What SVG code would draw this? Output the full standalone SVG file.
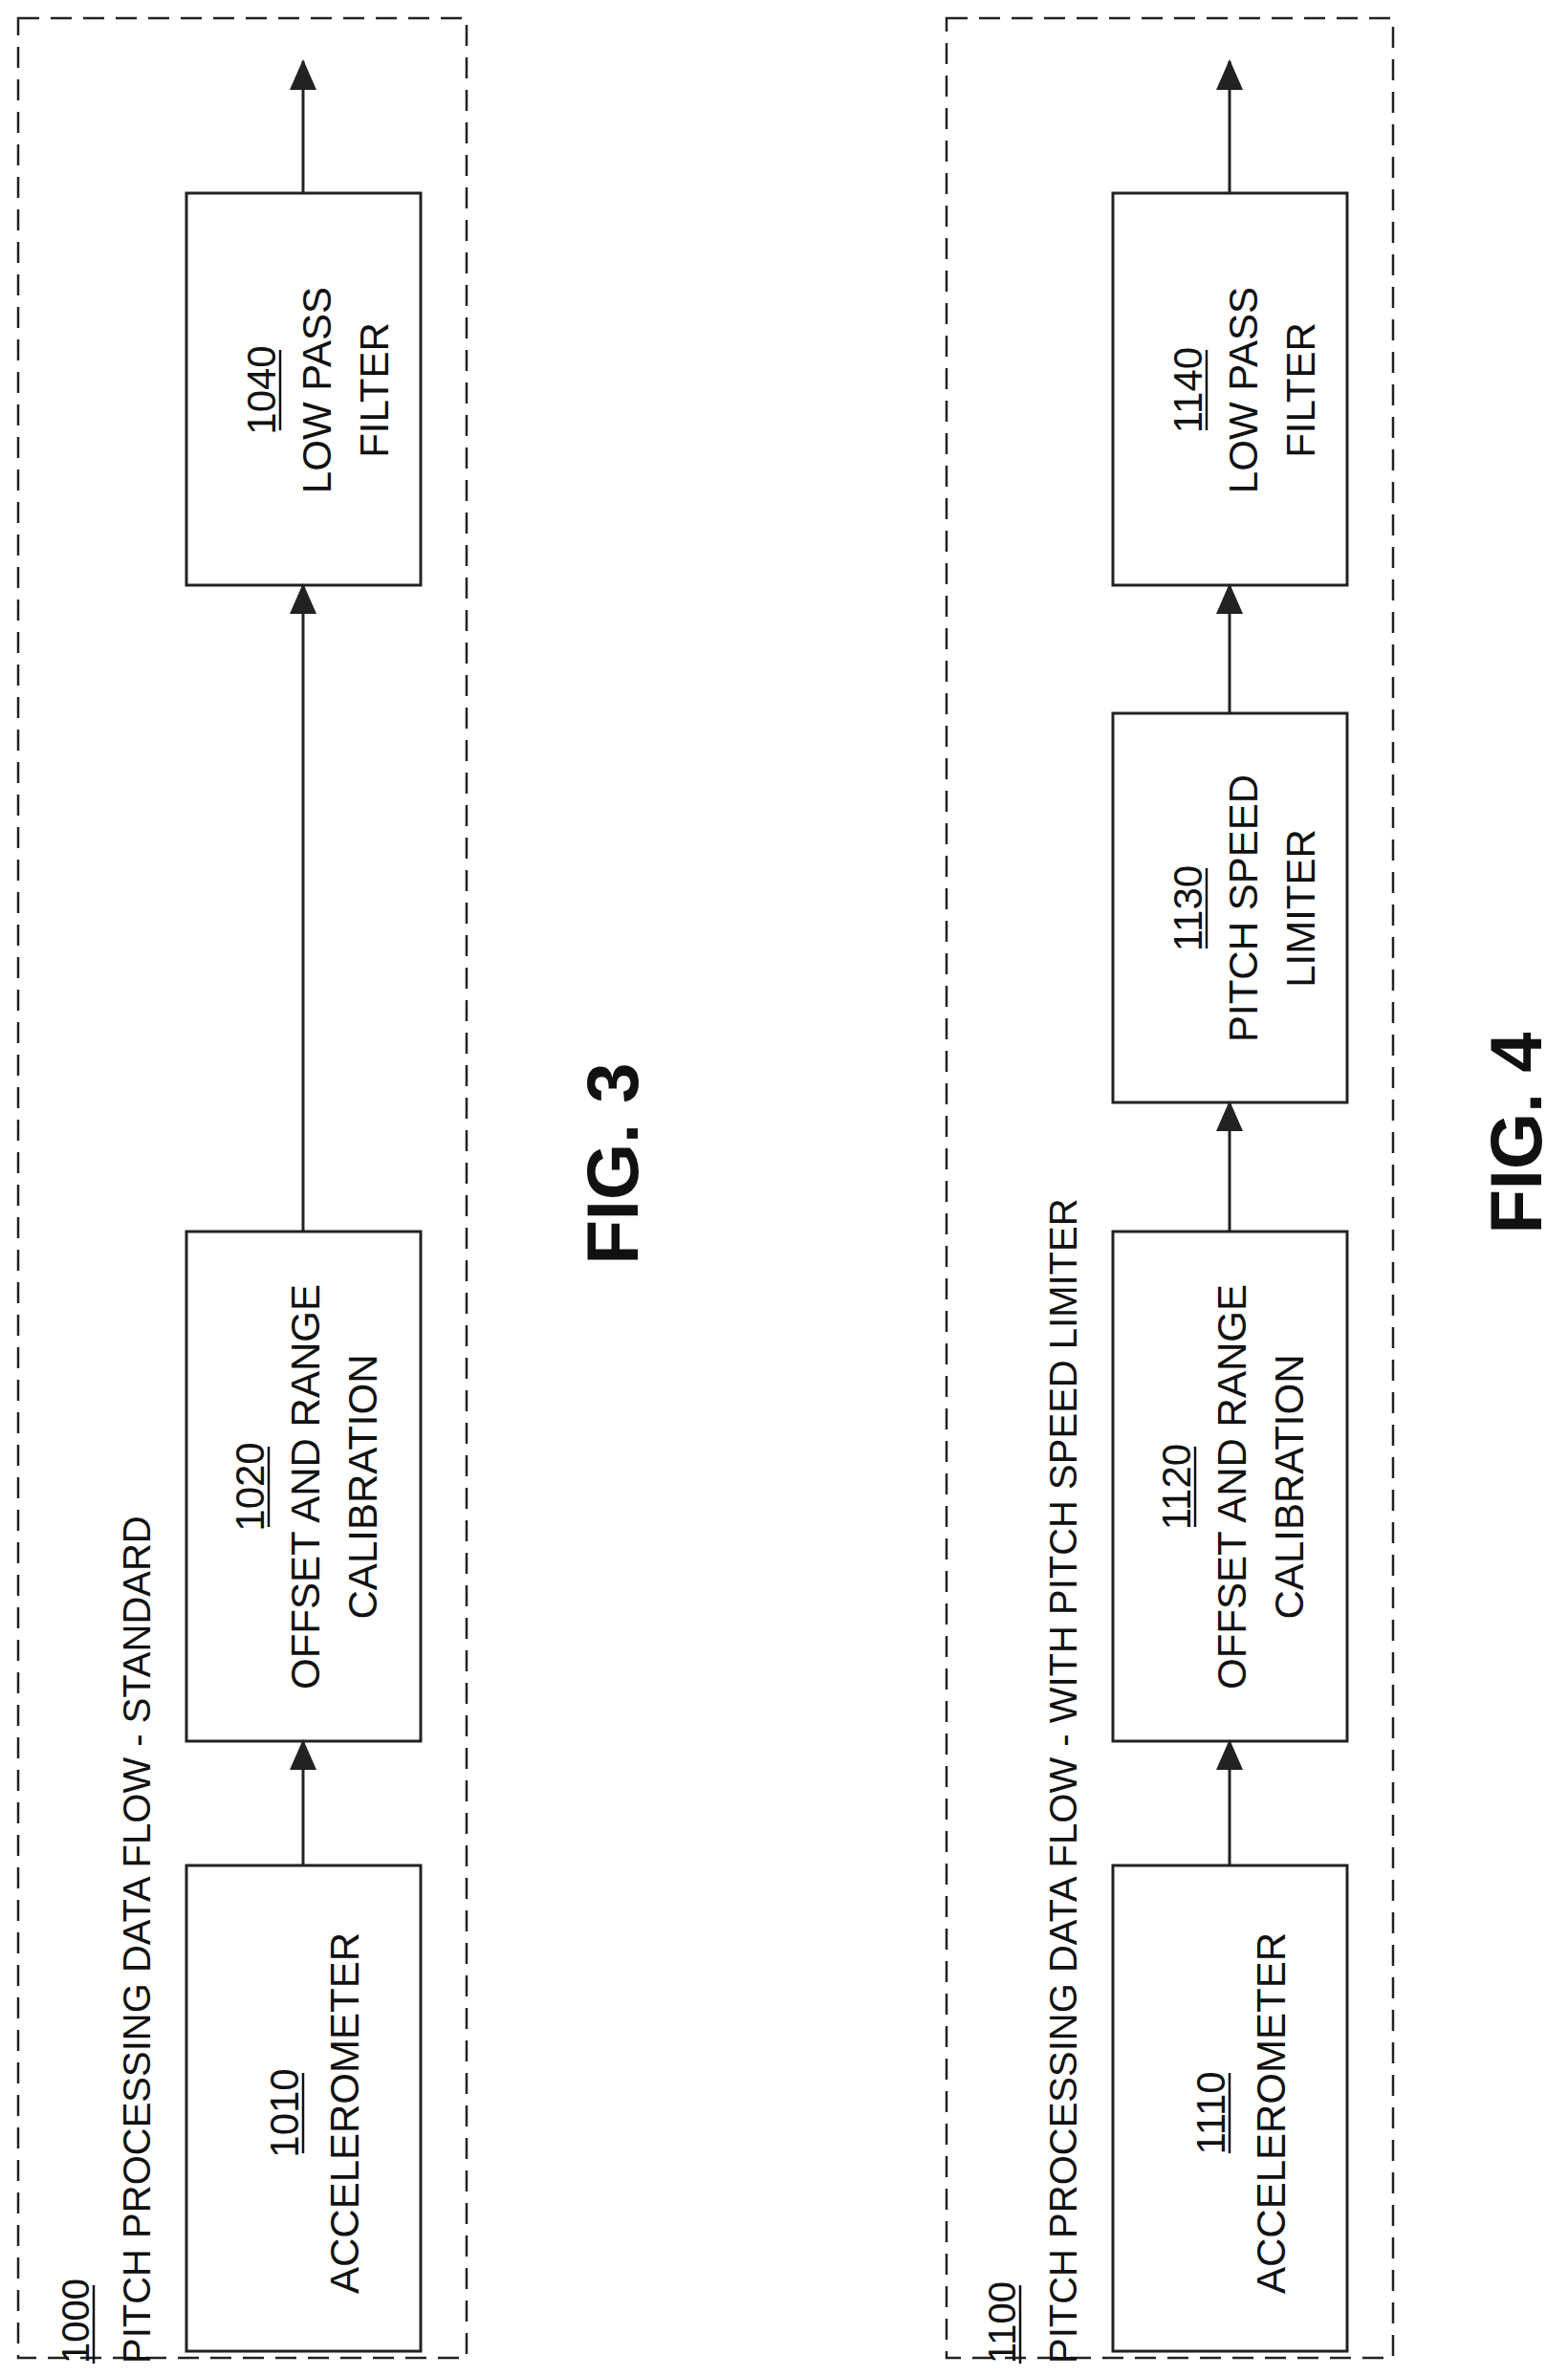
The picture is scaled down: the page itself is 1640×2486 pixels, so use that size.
<svg xmlns="http://www.w3.org/2000/svg" width="1640" height="2486" viewBox="0 0 1640 2486">
<style>
.frame{fill:none;stroke:#222;stroke-width:2.5;stroke-dasharray:22 12}
.box{fill:#fff;stroke:#222;stroke-width:3}
.t{font-family:"Liberation Sans",Arial,sans-serif;font-size:42px;fill:#111;text-anchor:middle}
.ts{font-family:"Liberation Sans",Arial,sans-serif;font-size:40px;fill:#111;text-anchor:start}
.fig{font-family:"Liberation Sans",Arial,sans-serif;font-size:76px;font-weight:bold;fill:#111;text-anchor:middle}
.u{stroke:#111;stroke-width:2.5}
</style>
<defs><marker id="b" markerWidth="32" markerHeight="28" refX="30" refY="14" orient="auto" markerUnits="userSpaceOnUse"><path d="M0,0 L32,14 L0,28 z" fill="#222"/></marker></defs>
<g id="fig3">
<rect class="frame" x="19" y="19" width="469" height="2447"/>
<text class="ts" transform="translate(93,2472) rotate(-90)">1000</text>
<line class="u" x1="98" y1="2472" x2="98" y2="2390"/>
<text class="ts" transform="translate(157,2472) rotate(-90)">PITCH PROCESSING DATA FLOW - STANDARD</text>
<text class="fig" transform="translate(667,1217) rotate(-90)">FIG. 3</text>
</g>
<g id="n1010"><rect class="box" x="195" y="1951" width="245" height="508"/>
<text class="t" transform="translate(312,2210) rotate(-90)">1010</text><line class="u" x1="317" y1="2252" x2="317" y2="2168"/>
<text class="t" transform="translate(375,2210) rotate(-90)">ACCELEROMETER</text></g>
<g id="n1020"><rect class="box" x="195" y="1288" width="245" height="533"/>
<text class="t" transform="translate(276,1555) rotate(-90)">1020</text><line class="u" x1="281" y1="1597" x2="281" y2="1513"/>
<text class="t" transform="translate(334,1555) rotate(-90)">OFFSET AND RANGE</text>
<text class="t" transform="translate(394,1555) rotate(-90)">CALIBRATION</text></g>
<g id="n1040"><rect class="box" x="195" y="202" width="245" height="410"/>
<text class="t" transform="translate(288,408) rotate(-90)">1040</text><line class="u" x1="293" y1="450" x2="293" y2="366"/>
<text class="t" transform="translate(346,408) rotate(-90)">LOW PASS</text>
<text class="t" transform="translate(406,408) rotate(-90)">FILTER</text></g>
<g id="fig4">
<rect class="frame" x="990" y="19" width="467" height="2447"/>
<text class="ts" transform="translate(1062,2472) rotate(-90)">1100</text>
<line class="u" x1="1067" y1="2472" x2="1067" y2="2390"/>
<text class="ts" transform="translate(1126,2472) rotate(-90)">PITCH PROCESSING DATA FLOW - WITH PITCH SPEED LIMITER</text>
<text class="fig" transform="translate(1612,1185) rotate(-90)">FIG. 4</text>
</g>
<g id="n1110"><rect class="box" x="1164" y="1951" width="245" height="508"/>
<text class="t" transform="translate(1281,2210) rotate(-90)">1110</text><line class="u" x1="1286" y1="2252" x2="1286" y2="2168"/>
<text class="t" transform="translate(1344,2210) rotate(-90)">ACCELEROMETER</text></g>
<g id="n1120"><rect class="box" x="1164" y="1288" width="245" height="533"/>
<text class="t" transform="translate(1245,1555) rotate(-90)">1120</text><line class="u" x1="1250" y1="1597" x2="1250" y2="1513"/>
<text class="t" transform="translate(1303,1555) rotate(-90)">OFFSET AND RANGE</text>
<text class="t" transform="translate(1363,1555) rotate(-90)">CALIBRATION</text></g>
<g id="n1130"><rect class="box" x="1164" y="746" width="245" height="407"/>
<text class="t" transform="translate(1257,950) rotate(-90)">1130</text><line class="u" x1="1262" y1="992" x2="1262" y2="908"/>
<text class="t" transform="translate(1315,950) rotate(-90)">PITCH SPEED</text>
<text class="t" transform="translate(1375,950) rotate(-90)">LIMITER</text></g>
<g id="n1140"><rect class="box" x="1164" y="202" width="245" height="410"/>
<text class="t" transform="translate(1257,408) rotate(-90)">1140</text><line class="u" x1="1262" y1="450" x2="1262" y2="366"/>
<text class="t" transform="translate(1315,408) rotate(-90)">LOW PASS</text>
<text class="t" transform="translate(1375,408) rotate(-90)">FILTER</text></g>
<g id="connectors" stroke="#222" stroke-width="3" fill="none">
<line x1="317" y1="1951" x2="317" y2="1821" marker-end="url(#b)"/>
<line x1="317" y1="1288" x2="317" y2="612" marker-end="url(#b)"/>
<line x1="317" y1="202" x2="317" y2="64" marker-end="url(#b)"/>
<line x1="1286" y1="1951" x2="1286" y2="1821" marker-end="url(#b)"/>
<line x1="1286" y1="1288" x2="1286" y2="1153" marker-end="url(#b)"/>
<line x1="1286" y1="746" x2="1286" y2="612" marker-end="url(#b)"/>
<line x1="1286" y1="202" x2="1286" y2="64" marker-end="url(#b)"/>
</g>
</svg>
